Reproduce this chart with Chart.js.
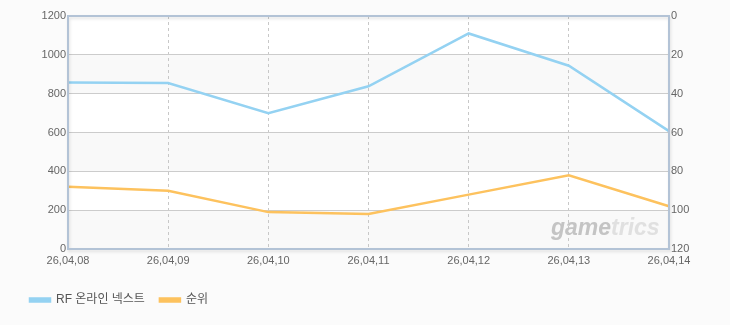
<!DOCTYPE html>
<html>
<head>
<meta charset="utf-8">
<script src="https://cdn.jsdelivr.net/npm/chart.js@4/dist/chart.umd.min.js"></script>
<style>
  html, body { margin: 0; padding: 0; background: #fbfbfb; }
  canvas { display: block; }
</style>
</head>
<body>
<canvas id="trendChart" width="730" height="325"></canvas>
<script>
const labels = ['26,04,08', '26,04,09', '26,04,10', '26,04,11', '26,04,12', '26,04,13', '26,04,14'];
const players = [857, 855, 700, 838, 1110, 944, 607];
const ranks = [88, 90, 101, 102, 92, 82, 98];
const leftTicks = [0, 200, 400, 600, 800, 1000, 1200];
const rightTicks = [0, 20, 40, 60, 80, 100, 120];

const FONT = "'Liberation Sans', Arial, 'Noto Sans CJK KR', sans-serif";
const TICK_COLOR = '#666666';

// white plot with alternating grey bands, border and watermark
const plotBackground = {
  id: 'plotBackground',
  beforeDraw(chart) {
    const { ctx, chartArea: a, scales } = chart;
    const y = scales.y;
    ctx.save();
    ctx.fillStyle = '#ffffff';
    ctx.fillRect(a.left, a.top, a.right - a.left, a.bottom - a.top);
    ctx.fillStyle = '#f9f9f9';
    for (let i = 0; i < leftTicks.length - 1; i += 2) {
      const yTop = y.getPixelForValue(leftTicks[i + 1]);
      const yBot = y.getPixelForValue(leftTicks[i]);
      ctx.fillRect(a.left, yTop, a.right - a.left, yBot - yTop);
    }
    ctx.restore();
  },
  beforeDatasetsDraw(chart) {
    const { ctx, chartArea: a } = chart;
    ctx.save();
    ctx.font = "italic bold 23px " + FONT;
    ctx.textBaseline = 'alphabetic';
    const x0 = a.right - 118;
    const yb = a.bottom - 14;
    ctx.fillStyle = '#c4c4c4';
    ctx.fillText('game', x0, yb);
    const w = ctx.measureText('game').width;
    ctx.fillStyle = '#e0e0e0';
    ctx.fillText('trics', x0 + w, yb);
    ctx.restore();
  },
  afterDraw(chart) {
    const { ctx, chartArea: a } = chart;
    ctx.save();
    ctx.shadowColor = 'rgba(0,0,0,0.12)';
    ctx.shadowBlur = 3;
    ctx.shadowOffsetX = 1;
    ctx.shadowOffsetY = 2;
    ctx.strokeStyle = '#b3c3d6';
    ctx.lineWidth = 2;
    ctx.strokeRect(a.left, a.top, a.right - a.left, a.bottom - a.top);
    ctx.restore();
  }
};

new Chart(document.getElementById('trendChart'), {
  type: 'line',
  data: {
    labels: labels,
    datasets: [
      {
        label: 'RF 온라인 넥스트',
        data: players,
        yAxisID: 'y',
        borderColor: '#94d2f2',
        backgroundColor: '#94d2f2',
        borderWidth: 2.5,
        pointRadius: 0,
        tension: 0
      },
      {
        label: '순위',
        data: ranks,
        yAxisID: 'y1',
        borderColor: '#fdc25e',
        backgroundColor: '#fdc25e',
        borderWidth: 2.5,
        pointRadius: 0,
        tension: 0
      }
    ]
  },
  options: {
    responsive: false,
    animation: false,
    layout: { padding: { top: 16, left: 15, right: 0, bottom: 9 } },
    plugins: {
      legend: {
        position: 'bottom',
        align: 'start',
        labels: {
          boxWidth: 20,
          boxHeight: 3,
          padding: 15,
          color: '#555555',
          font: { family: FONT, size: 12 }
        }
      },
      tooltip: { enabled: false }
    },
    scales: {
      x: {
        offset: false,
        grid: { color: '#c8c8c8', lineWidth: 1, drawTicks: false },
        border: { display: false, dash: [3, 3] },
        ticks: {
          color: TICK_COLOR,
          font: { family: FONT, size: 11 },
          padding: 5,
          maxRotation: 0,
          autoSkip: false
        },
        afterFit(scale) { scale.height = 30; }
      },
      y: {
        position: 'left',
        min: 0,
        max: 1200,
        afterBuildTicks(scale) { scale.ticks = leftTicks.map(v => ({ value: v })); },
        grid: { color: '#cccccc', lineWidth: 1, drawTicks: false },
        border: { display: false },
        ticks: {
          color: TICK_COLOR,
          font: { family: FONT, size: 11 },
          padding: 2,
          callback: v => String(v)
        },
        afterFit(scale) { scale.width = 53; }
      },
      y1: {
        position: 'right',
        reverse: true,
        min: 0,
        max: 120,
        afterBuildTicks(scale) { scale.ticks = rightTicks.map(v => ({ value: v })); },
        grid: { display: false, drawTicks: false },
        border: { display: false },
        ticks: {
          color: TICK_COLOR,
          font: { family: FONT, size: 11 },
          padding: 2,
          callback: v => String(v)
        },
        afterFit(scale) { scale.width = 61; }
      }
    }
  },
  plugins: [plotBackground]
});
</script>
</body>
</html>
